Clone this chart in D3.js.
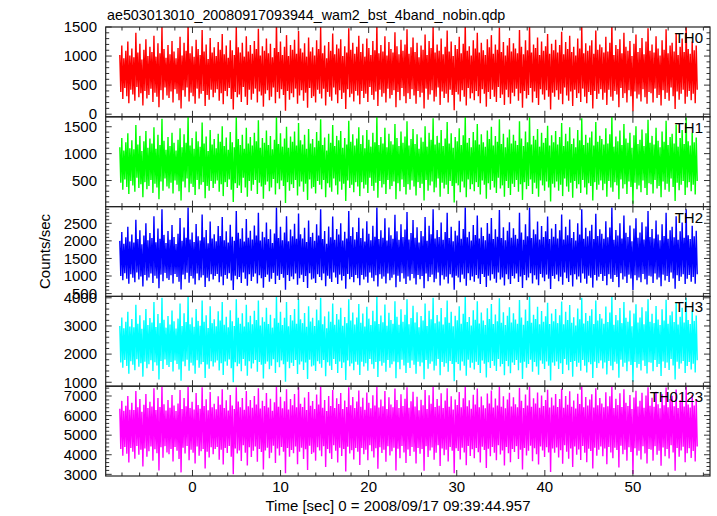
<!DOCTYPE html>
<html><head><meta charset="utf-8">
<script src="https://cdn.jsdelivr.net/npm/d3@7"></script>
<style>body{margin:0;background:#fff}text{font-family:"Liberation Sans",Arial,sans-serif;fill:#000}</style>
</head><body>
<svg id="c" width="717" height="516"></svg>
<script>
const title = "ae503013010_20080917093944_wam2_bst_4band_nobin.qdp";
const xLabel = "Time [sec] 0 = 2008/09/17 09:39:44.957";
const yLabel = "Counts/sec";
const panelNames = ["TH0","TH1","TH2","TH3","TH0123"];
const panelColors = ["#ff0000","#00ff00","#0000ff","#00ffff","#ff00ff"];
const yDomains = [[-45,1500],[15,1685],[420,2975],[860,4050],[2915,7500]];
const yMajor = [[0,500,1000,1500],[500,1000,1500],[500,1000,1500,2000,2500],[1000,2000,3000,4000],[3000,4000,5000,6000,7000]];
const yMinorStep = [100,100,100,200,200];
const xDomain = [-9.85, 58.75];
const xMajor = [0,10,20,30,40,50];
const xMinorStep = 2;
const tStart = -8.25, tEnd = 57.3;

// per time-bin upper / lower extremes of the rapidly varying light curves
const th0Hi = [1020,1180,960,1090,1250,1010,1130,980,1400,1060,1210,940,1110,1290,1000,1160,1070,1350,990,1220,1050,1500,1120,970,
1190,1030,1260,1080,960,1140,1330,1010,1230,1090,1560,1050,1170,990,1280,1120,1020,1450,1080,1200,950,1310,1060,1150,
1000,1240,1110,1380,1030,1180,970,1270,1100,1020,1520,1150,1060,1230,990,1340,1080,1190,1040,1260,1120,1470,1010,1170,
1090,1300,1050,1210,980,1140,1600,1070,1250,1020,1160,1360,1000,1190,1110,1280,1040,1430,1130,1060,1220,990,1320,1080,
1150,1010,1270,1120,1500,1050,1180,960,1240,1090,1390,1030,1200,1130,1290,1000,1170,1060,1480,1110,1230,1040,1160,1350,
1070,1210,990,1300,1140,1020,1260,1100,1550,1050,1190,1080,1340,1010,1240,1120,1060,1410,1170,1030,1280,1090,1200,1460,
1040,1150,1320,1070,1230,980,1180,1110,1370,1020,1260,1140,1500,1060,1200,1090,1300,1030,1160,1440,1080,1250,1000,1190,
1120,1330,1050,1210,1580,1090,1170,1010,1270,1130,1400,1060,1230,1100,1020,1290,1150,1360,1040,1200,1110,1490,1070,1240,
1010,1180,1310,1080,1220,1130,1050,1450,1160,1030,1270,1100,1530,1060,1200,1140,1320,1020,1250,1090,1170,1380,1040,1210,
1100,1280,1060,1190,1420,1030,1240,1120,1350,1070,1160,1010,1300,1130,1510,1050,1220,1090,1180,1270,1040,1440,1110,1200,
1150,1060,1330,1080,1230,1570,1020,1190,1120,1290,1050,1400,1160,1090,1260,1000,1210,1370,1070,1140,1310,1030,1250,1480,
1090,1200,1060,1340,1130,1010,1270,1110,1460,1050,1180,1230,1080,1390,1020,1160,1300,1070,1520,1120,1040,1250,1100,1180];
const th0Lo = [380,260,450,310,190,420,340,230,470,290,360,150,400,270,330,440,210,370,300,120,410,250,460,320,
280,390,200,430,350,240,100,410,300,460,220,370,310,180,440,270,350,400,140,330,250,420,290,370,
430,230,360,170,400,310,450,260,80,380,290,340,210,470,300,160,420,250,350,440,200,390,320,130,
350,410,240,300,460,190,380,270,430,330,60,400,250,360,290,440,180,320,410,230,370,110,450,280,
310,200,420,350,270,440,150,380,300,230,460,340,190,410,260,370,90,430,290,350,220,400,320,170,
400,280,350,210,470,330,250,390,140,420,300,360,200,440,270,330,410,120,380,240,450,310,190,360,
260,430,320,180,400,290,370,100,440,250,340,410,220,300,460,160,390,280,350,200,420,330,70,380,
340,220,410,300,150,450,270,360,240,400,310,190,430,350,130,380,260,420,300,210,470,280,340,160,
420,290,180,370,310,440,230,360,110,400,270,330,450,200,390,280,160,430,340,250,410,300,80,370,
300,410,250,350,170,460,320,230,390,140,420,280,360,210,440,300,190,380,330,100,400,260,350,430,
250,370,160,420,300,230,400,340,120,450,280,360,200,410,310,50,390,270,340,220,430,290,180,380,
360,200,440,280,330,150,410,260,370,230,460,310,90,390,250,350,420,180,300,400,240,350,190,420];

const th1Hi = [1120,1290,1060,1210,1380,1100,1250,1080,1530,1170,1330,1050,1230,1420,1110,1280,1190,1490,1090,1350,1160,1650,1240,1070,
1310,1140,1390,1200,1060,1260,1470,1120,1360,1200,1700,1150,1290,1090,1410,1230,1130,1580,1190,1320,1050,1440,1170,1270,
1100,1370,1220,1510,1140,1300,1070,1400,1210,1120,1680,1270,1160,1350,1090,1480,1190,1310,1150,1390,1230,1620,1110,1290,
1200,1430,1160,1330,1080,1260,1700,1180,1380,1130,1280,1500,1110,1320,1220,1410,1150,1570,1250,1170,1350,1090,1460,1190,
1270,1120,1400,1240,1640,1160,1300,1060,1370,1200,1530,1140,1330,1250,1420,1110,1290,1170,1610,1220,1360,1150,1280,1490,
1180,1340,1100,1440,1260,1130,1390,1210,1700,1160,1310,1190,1480,1120,1370,1230,1170,1550,1290,1140,1410,1200,1320,1600,
1150,1270,1460,1180,1360,1090,1300,1220,1510,1130,1390,1260,1660,1170,1330,1200,1440,1140,1280,1590,1190,1380,1110,1310,
1230,1470,1160,1340,1700,1200,1290,1120,1400,1250,1550,1170,1360,1210,1130,1430,1270,1500,1150,1330,1220,1640,1180,1370,
1120,1300,1450,1190,1350,1240,1160,1600,1280,1140,1410,1210,1690,1170,1330,1260,1460,1130,1390,1200,1290,1520,1150,1340,
1210,1420,1170,1310,1570,1140,1370,1230,1490,1180,1280,1120,1440,1250,1660,1160,1350,1200,1300,1410,1150,1590,1220,1330,
1270,1170,1470,1190,1360,1700,1130,1320,1230,1430,1160,1550,1280,1200,1390,1110,1340,1510,1180,1260,1450,1140,1380,1630,
1200,1330,1170,1480,1240,1120,1410,1220,1610,1160,1310,1370,1190,1540,1130,1290,1440,1180,1680,1230,1150,1390,1210,1300];
const th1Lo = [460,330,520,380,250,490,410,290,550,360,430,190,470,340,400,510,270,440,370,150,480,310,540,390,
350,460,260,500,420,300,130,480,370,540,280,440,380,230,510,340,420,470,170,400,310,490,360,440,
500,290,430,210,470,380,520,330,100,450,360,410,270,550,370,200,490,310,420,510,250,460,390,160,
420,480,300,370,530,240,450,340,500,400,80,470,310,430,360,510,220,390,480,290,440,140,520,350,
380,260,490,420,340,510,190,450,370,290,540,410,240,480,330,440,120,500,360,420,280,470,390,210,
470,350,420,270,550,400,310,460,180,490,370,430,250,510,340,400,480,150,450,300,520,380,240,430,
330,500,390,220,470,360,440,130,510,310,410,480,280,370,540,200,460,350,420,250,490,400,90,450,
410,280,480,370,190,520,340,430,300,470,380,240,500,420,160,450,330,490,370,270,550,350,410,200,
490,360,230,440,380,510,290,430,140,470,340,400,520,250,460,350,200,500,410,310,480,370,110,440,
370,480,310,420,210,540,390,290,460,180,490,350,430,270,510,370,240,450,400,130,470,330,420,500,
320,440,200,490,370,290,470,410,150,520,350,430,250,480,380,70,460,340,410,280,500,360,230,450,
430,260,510,350,400,190,480,330,440,290,540,380,120,460,320,420,490,230,370,470,300,420,240,490];

const th2Hi = [2000,2250,1920,2100,2400,1980,2180,1950,2600,2050,2300,1900,2150,2500,2020,2220,2080,2700,1960,2350,2060,2900,2170,1940,
2280,2030,2450,2110,1910,2200,2650,2000,2380,2090,2950,2040,2240,1970,2480,2130,2010,2750,2100,2310,1930,2550,2070,2190,
1990,2420,2140,2680,2020,2270,1950,2460,2120,2000,2850,2230,2060,2360,1980,2620,2090,2290,2040,2440,2150,2800,2010,2260,
2100,2520,2050,2330,1940,2210,2950,2080,2400,2020,2240,2700,1990,2320,2130,2490,2060,2780,2190,2070,2370,1970,2580,2110,
2230,2000,2470,2150,2900,2050,2280,1920,2410,2100,2690,2030,2340,2180,2500,2010,2260,2070,2850,2140,2390,2040,2250,2660,
2080,2350,1980,2560,2200,2020,2430,2120,2950,2050,2300,2090,2640,2010,2380,2160,2060,2740,2270,2030,2470,2110,2320,2820,
2040,2220,2590,2090,2390,1950,2280,2130,2680,2000,2430,2190,2900,2070,2310,2110,2520,2030,2250,2800,2080,2400,1990,2290,
2150,2570,2060,2340,2950,2100,2260,2010,2450,2170,2720,2070,2380,2140,2020,2510,2200,2650,2050,2330,2120,2880,2080,2390,
2020,2290,2530,2090,2360,2170,2060,2800,2240,2030,2470,2130,2950,2080,2320,2190,2550,2040,2420,2110,2270,2690,2050,2350,
2120,2480,2070,2300,2750,2040,2400,2160,2610,2080,2250,2010,2500,2180,2900,2060,2370,2130,2290,2460,2050,2770,2140,2330,
2200,2060,2560,2100,2380,2950,2030,2310,2150,2500,2070,2720,2230,2110,2440,1990,2350,2640,2090,2240,2530,2040,2410,2850,
2110,2340,2070,2580,2180,2020,2470,2140,2800,2060,2300,2400,2100,2700,2030,2270,2520,2090,2900,2160,2050,2430,2130,2290];
const th2Lo = [1000,880,1080,920,780,1050,950,820,1100,900,990,700,1030,870,960,1070,800,1010,930,650,1040,850,1090,940,
890,1020,790,1060,970,840,620,1040,910,1090,810,1000,930,760,1070,880,960,1020,690,950,850,1050,900,1000,
1060,820,990,740,1030,920,1080,870,600,1010,910,970,800,1100,920,720,1050,860,980,1070,790,1020,940,670,
970,1040,840,920,1090,770,1010,890,1060,950,610,1030,860,990,910,1070,750,940,1040,830,1000,660,1080,900,
930,800,1050,970,880,1070,710,1010,920,830,1100,960,770,1040,870,1000,640,1060,910,970,820,1030,940,740,
1030,900,980,810,1100,950,850,1020,700,1050,920,990,790,1070,880,950,1040,680,1010,840,1080,930,770,990,
870,1060,940,760,1030,910,1000,650,1070,850,970,1040,820,920,1100,730,1020,900,980,790,1050,960,610,1010,
960,820,1040,920,720,1080,880,990,840,1030,930,770,1060,970,690,1010,870,1050,920,810,1100,900,960,730,
1050,910,770,1000,930,1070,830,990,660,1030,880,960,1080,790,1020,900,740,1060,960,850,1040,920,630,1000,
920,1040,850,980,750,1100,940,830,1020,700,1050,900,990,810,1070,920,780,1010,950,670,1030,870,980,1060,
860,1000,740,1050,920,830,1030,970,680,1080,900,990,800,1040,930,600,1020,880,960,820,1060,910,760,1010,
990,800,1070,900,960,710,1040,870,1000,830,1100,930,640,1020,860,980,1050,770,920,1030,840,970,780,1050];

const th3Hi = [3000,3300,2920,3150,3500,2980,3250,2950,3750,3080,3380,2900,3200,3600,3030,3280,3120,3850,2960,3420,3100,4000,3220,2940,
3350,3050,3550,3170,2910,3260,3800,3000,3450,3140,4050,3060,3300,2970,3600,3180,3010,3900,3150,3380,2930,3700,3100,3240,
2990,3520,3190,3850,3040,3330,2950,3560,3170,3000,3950,3290,3080,3450,2980,3750,3130,3360,3060,3540,3210,3900,3020,3310,
3150,3650,3070,3400,2940,3270,4050,3110,3500,3030,3290,3850,2990,3390,3190,3600,3080,3950,3240,3100,3460,2970,3700,3160,
3290,3000,3580,3200,4000,3060,3340,2920,3510,3150,3800,3040,3420,3230,3650,3010,3320,3100,3950,3190,3480,3050,3300,3780,
3110,3440,2980,3680,3260,3030,3540,3170,4050,3070,3370,3130,3760,3010,3470,3210,3080,3880,3330,3040,3590,3150,3400,3950,
3060,3280,3720,3120,3490,2950,3350,3190,3800,3000,3540,3240,4000,3100,3390,3160,3640,3050,3310,3900,3110,3500,2990,3360,
3200,3700,3080,3430,4050,3140,3320,3020,3560,3220,3880,3090,3480,3190,3030,3630,3250,3780,3070,3410,3170,3980,3110,3490,
3030,3360,3660,3120,3450,3230,3080,3920,3300,3040,3580,3180,4050,3110,3400,3250,3680,3060,3530,3150,3340,3820,3070,3440,
3170,3600,3100,3380,3870,3060,3500,3210,3740,3110,3310,3020,3620,3240,4000,3090,3460,3180,3360,3590,3070,3900,3190,3420,
3260,3080,3690,3140,3480,4050,3040,3390,3200,3640,3100,3850,3290,3150,3550,2990,3440,3770,3120,3300,3660,3060,3520,3950,
3150,3430,3100,3710,3230,3030,3590,3190,3930,3080,3380,3510,3140,3830,3050,3330,3650,3120,4000,3210,3070,3550,3180,3370];
const th3Lo = [1700,1520,1790,1580,1300,1750,1620,1430,1820,1550,1680,1200,1730,1500,1640,1780,1400,1710,1600,1100,1760,1470,1810,1610,
1540,1720,1380,1770,1650,1450,1050,1740,1570,1800,1410,1690,1600,1300,1780,1520,1640,1720,1150,1630,1480,1750,1560,1700,
1770,1420,1680,1260,1740,1590,1810,1500,1000,1710,1570,1660,1390,1830,1590,1230,1750,1490,1670,1790,1370,1720,1620,1130,
1660,1740,1460,1590,1820,1330,1710,1530,1770,1640,1020,1730,1500,1690,1580,1790,1290,1630,1740,1440,1700,1120,1800,1560,
1600,1400,1750,1660,1520,1790,1210,1710,1590,1440,1830,1650,1330,1740,1510,1700,1080,1770,1570,1670,1430,1730,1620,1260,
1730,1560,1680,1410,1830,1640,1480,1720,1190,1750,1590,1690,1370,1790,1520,1640,1740,1140,1710,1460,1800,1600,1330,1690,
1510,1770,1620,1300,1730,1570,1700,1110,1790,1480,1660,1740,1420,1590,1830,1250,1720,1550,1680,1370,1760,1650,1040,1710,
1650,1420,1740,1590,1230,1800,1520,1690,1450,1730,1610,1330,1770,1660,1170,1710,1510,1760,1590,1400,1830,1560,1650,1250,
1760,1570,1320,1700,1610,1790,1430,1690,1120,1730,1520,1650,1800,1370,1720,1560,1270,1770,1660,1470,1740,1590,1060,1700,
1590,1740,1470,1680,1290,1830,1620,1430,1720,1200,1760,1550,1690,1410,1790,1590,1350,1710,1640,1150,1730,1510,1680,1770,
1490,1700,1280,1760,1590,1430,1730,1660,1160,1800,1550,1690,1390,1740,1610,1020,1720,1520,1650,1420,1770,1580,1310,1710,
1690,1390,1790,1540,1650,1220,1740,1510,1700,1440,1830,1600,1100,1730,1480,1670,1760,1330,1580,1720,1450,1660,1350,1780];

const th0123Hi = [6350,6750,6250,6500,7000,6300,6650,6280,7250,6420,6850,6200,6550,7100,6380,6700,6460,7400,6290,6900,6440,7500,6580,6260,
6800,6400,7050,6520,6230,6620,7300,6340,6900,6480,7500,6390,6700,6310,7150,6540,6350,7450,6490,6830,6270,7200,6430,6600,
6320,6980,6550,7350,6380,6780,6260,7050,6520,6340,7450,6720,6420,6900,6300,7250,6470,6800,6400,7000,6560,7400,6360,6760,
6490,7150,6410,6860,6250,6680,7500,6450,6960,6370,6730,7350,6310,6840,6530,7100,6420,7450,6600,6440,6920,6290,7200,6500,
6740,6340,7080,6560,7500,6400,6800,6230,7000,6490,7300,6380,6880,6590,7150,6330,6770,6440,7450,6530,6950,6390,6720,7280,
6450,6910,6300,7180,6650,6370,7040,6510,7500,6410,6820,6470,7260,6330,6940,6560,6420,7380,6790,6380,7090,6490,6860,7450,
6400,6730,7220,6460,6960,6270,6810,6530,7300,6340,7040,6600,7500,6440,6850,6500,7140,6390,6770,7400,6450,6990,6310,6820,
6540,7200,6420,6890,7500,6480,6780,6350,7060,6570,7380,6430,6970,6530,6370,7130,6610,7280,6410,6870,6510,7480,6450,6980,
6370,6820,7160,6460,6930,6580,6420,7420,6760,6380,7080,6520,7500,6450,6880,6610,7180,6400,7030,6490,6800,7320,6410,6920,
6510,7100,6440,6840,7370,6400,7000,6550,7240,6450,6770,6360,7120,6590,7500,6430,6950,6520,6820,7090,6410,7400,6530,6900,
6620,6420,7190,6480,6980,7500,6380,6860,6540,7140,6440,7350,6650,6490,7050,6330,6920,7270,6460,6760,7160,6400,7020,7450,
6500,6910,6450,7210,6580,6370,7090,6530,7430,6420,6850,7010,6480,7330,6390,6800,7150,6460,7500,6560,6410,7050,6520,6840];
const th0123Lo = [4300,3950,4400,4050,3600,4350,4150,3800,4450,4000,4250,3400,4320,3900,4180,4420,3700,4280,4080,3200,4380,3850,4440,4120,
4020,4300,3650,4400,4200,3780,3100,4360,4060,4450,3720,4260,4100,3550,4420,3950,4180,4300,3300,4150,3860,4380,4030,4290,
4400,3750,4250,3500,4340,4090,4450,3900,3000,4320,4060,4220,3680,4480,4100,3450,4380,3880,4200,4420,3640,4300,4140,3250,
4220,4360,3820,4100,4460,3580,4320,3960,4400,4160,3050,4340,3900,4240,4080,4420,3520,4150,4360,3780,4280,3220,4460,4040,
4120,3700,4380,4220,3920,4440,3380,4300,4080,3780,4480,4200,3600,4360,3940,4290,3150,4410,4060,4230,3760,4340,4150,3480,
4350,4020,4260,3720,4480,4180,3860,4330,3280,4390,4090,4250,3640,4430,3960,4180,4360,3200,4310,3820,4450,4120,3580,4270,
3940,4400,4150,3560,4350,4050,4300,3180,4440,3880,4220,4370,3740,4100,4480,3420,4320,3980,4260,3660,4400,4200,3050,4330,
4190,3760,4360,4110,3460,4450,3940,4280,3820,4340,4130,3600,4410,4240,3320,4310,3920,4400,4100,3720,4480,4010,4220,3450,
4400,4080,3620,4300,4140,4440,3780,4250,3250,4350,3960,4200,4460,3670,4330,4030,3500,4420,4220,3880,4380,4120,3120,4320,
4100,4370,3860,4230,3540,4480,4160,3800,4320,3380,4420,4000,4270,3730,4450,4100,3620,4310,4190,3300,4360,3950,4250,4420,
3920,4320,3520,4400,4110,3820,4360,4240,3350,4460,4020,4260,3700,4380,4140,3020,4330,3960,4200,3760,4430,4070,3560,4300,
4260,3700,4440,4000,4200,3440,4370,3930,4290,3810,4480,4110,3180,4350,3900,4220,4410,3620,4080,4330,3840,4190,3650,4420];

const seriesHi = [th0Hi, th1Hi, th2Hi, th3Hi, th0123Hi];
const seriesLo = [th0Lo, th1Lo, th2Lo, th3Lo, th0123Lo];

const L = 105.7, R = 710, T = 27, B = 476;
const nP = 5, ph = (B - T) / nP;
const svg = d3.select("#c");
const x = d3.scaleLinear().domain(xDomain).range([L, R]);
const xMinor = d3.range(-8, 59, xMinorStep);

svg.append("text").attr("x", 107).attr("y", 20).style("font-size", "14.3px").text(title);
svg.append("text").attr("transform", `translate(50,${(T + B) / 2}) rotate(-90)`)
  .attr("text-anchor", "middle").style("font-size", "15px").text(yLabel);
svg.append("text").attr("x", 398).attr("y", 511).attr("text-anchor", "middle")
  .style("font-size", "15px").text(xLabel);

seriesHi.forEach((hi, i) => {
  const lo = seriesLo[i];
  const top = T + i * ph, bot = top + ph;
  const y = d3.scaleLinear().domain(yDomains[i]).range([bot, top]);
  const g = svg.append("g");
  const cid = "clip" + i;
  svg.append("clipPath").attr("id", cid).append("rect")
    .attr("x", L).attr("y", top).attr("width", R - L).attr("height", ph);
  const m = hi.length * 2;
  const pts = [];
  hi.forEach((v, k) => {
    pts.push([tStart + (tEnd - tStart) * (2 * k) / (m - 1), v]);
    pts.push([tStart + (tEnd - tStart) * (2 * k + 1) / (m - 1), lo[k]]);
  });
  const line = d3.line().x(d => x(d[0])).y(d => y(d[1]));
  g.append("path").attr("d", line(pts)).attr("clip-path", `url(#${cid})`)
    .attr("fill", "none").attr("stroke", panelColors[i]).attr("stroke-width", 1.4)
    .attr("stroke-linejoin", "miter").attr("stroke-miterlimit", 2);

  const [y0, y1] = yDomains[i];
  const minor = d3.range(Math.ceil(y0 / yMinorStep[i]) * yMinorStep[i], y1 + 1e-6, yMinorStep[i]);
  const tk = g.append("g").attr("stroke", "#333").attr("stroke-width", 1);
  minor.forEach(v => {
    const maj = yMajor[i].includes(v) || v % (yMinorStep[i] * 5) === 0;
    const len = maj ? 6 : 3.5;
    tk.append("line").attr("x1", L).attr("x2", L + len).attr("y1", y(v)).attr("y2", y(v));
    tk.append("line").attr("x1", R).attr("x2", R - len).attr("y1", y(v)).attr("y2", y(v));
  });
  xMinor.forEach(v => {
    const maj = v % 10 === 0;
    const len = maj ? 6 : 3.5;
    tk.append("line").attr("x1", x(v)).attr("x2", x(v)).attr("y1", top).attr("y2", top + len);
    tk.append("line").attr("x1", x(v)).attr("x2", x(v)).attr("y1", bot).attr("y2", bot - len);
  });
  g.append("rect").attr("x", L).attr("y", top).attr("width", R - L).attr("height", ph)
    .attr("fill", "none").attr("stroke", "#222").attr("stroke-width", 1.2);

  yMajor[i].forEach(v => {
    g.append("text").attr("x", 97).attr("y", y(v)).attr("dy", "0.35em")
      .attr("text-anchor", "end").style("font-size", "15px").text(v);
  });
  g.append("text").attr("x", 703).attr("y", top + 16).attr("text-anchor", "end")
    .style("font-size", "15px").text(panelNames[i]);
  if (i === nP - 1) {
    xMajor.forEach(v => {
      g.append("text").attr("x", x(v)).attr("y", bot + 16).attr("text-anchor", "middle")
        .style("font-size", "15px").text(v);
    });
  }
});
</script>
</body></html>
